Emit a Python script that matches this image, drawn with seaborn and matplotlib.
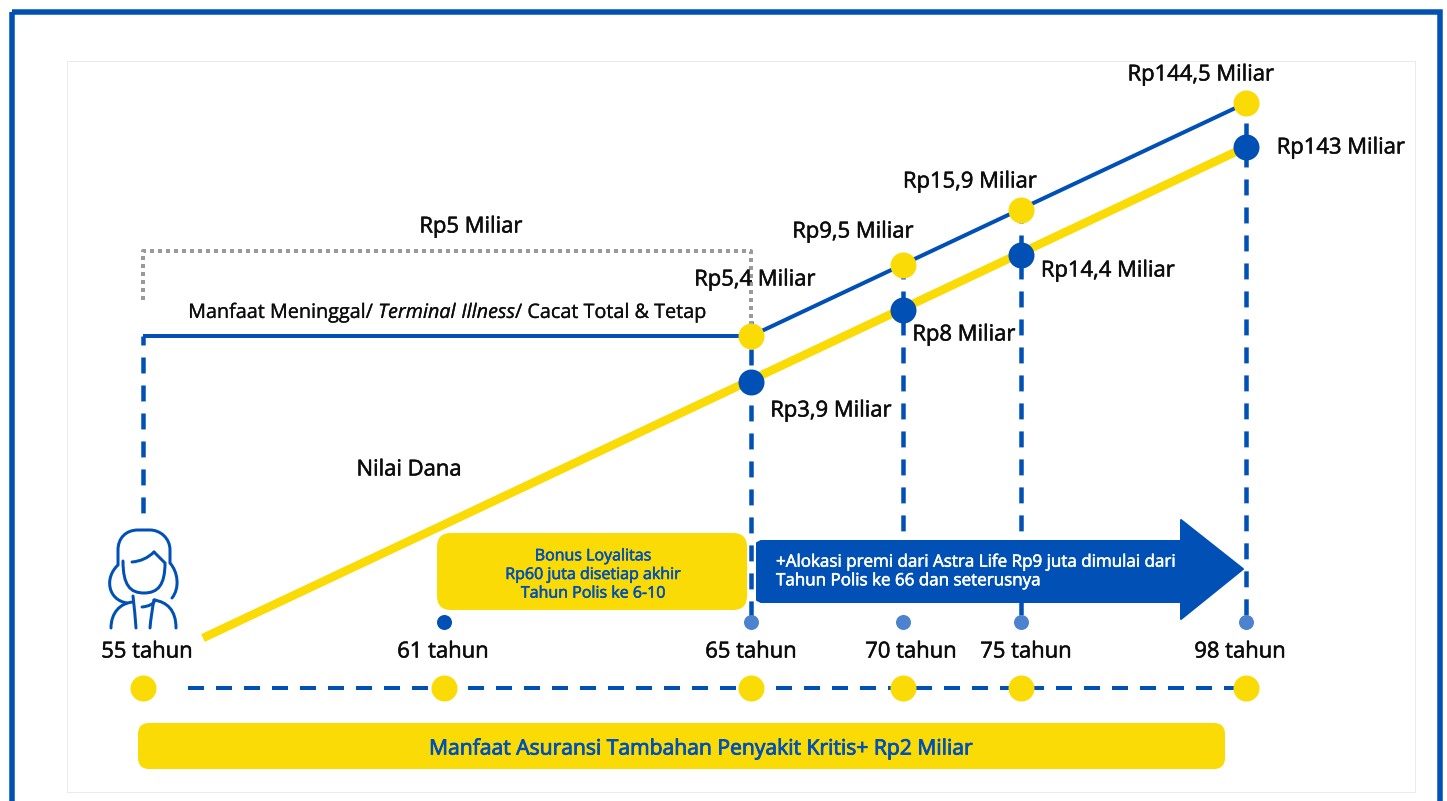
import matplotlib
matplotlib.use("Agg")
import matplotlib.pyplot as plt
import matplotlib.patheffects as pe
import seaborn as sns
import pandas as pd
from matplotlib.patches import FancyBboxPatch, Polygon, Rectangle, PathPatch
from matplotlib.path import Path

# chart values
ages = [55, 61, 65, 70, 75, 98]
age_labels = ["55 tahun", "61 tahun", "65 tahun", "70 tahun", "75 tahun", "98 tahun"]
benefit_ages = [65, 70, 75, 98]
benefit_labels = ["Rp5,4 Miliar", "Rp9,5 Miliar", "Rp15,9 Miliar", "Rp144,5 Miliar"]
fund_labels = ["Rp3,9 Miliar", "Rp8 Miliar", "Rp14,4 Miliar", "Rp143 Miliar"]

age_x = {55: 143, 61: 444, 65: 751, 70: 903, 75: 1021, 98: 1246}
benefit_y = {65: 336, 70: 265, 75: 210, 98: 103}
fund_y = {65: 382, 70: 310, 75: 255, 98: 147}
W, H = 1447, 801
px = 0.72

blue = "#0050B5"
yellow = "#FBDB05"
soft_blue = "#4D82CE"
ink = "#0D0D0D"

sns.set_theme(style="white")
plt.rcParams["font.family"] = ["Open Sans", "DejaVu Sans"]
plt.rcParams["mathtext.fontset"] = "custom"
plt.rcParams["mathtext.it"] = "Open Sans:italic"
plt.rcParams["mathtext.rm"] = "Open Sans"

fig = plt.figure(figsize=(W / 100, H / 100), dpi=100, facecolor="white")
ax = fig.add_axes([0, 0, 1, 1])
ax.set_xlim(0, W)
ax.set_ylim(H, 0)
ax.axis("off")


def line(xs, ys, color, width, z=2, dashes=None, offset=0):
    d = pd.DataFrame({"x": xs, "y": ys})
    l = sns.lineplot(data=d, x="x", y="y", ax=ax, color=color, linewidth=width * px,
                     sort=False, estimator=None, zorder=z, legend=False)
    art = l.lines[-1]
    art.set_solid_capstyle("butt")
    if dashes:
        art.set_linestyle((offset / width, dashes))
        art.set_dash_capstyle("butt")
    return art


def dots(xs, ys, color, d, z=5):
    sns.scatterplot(x=xs, y=ys, ax=ax, color=color, s=(d * px) ** 2, linewidth=0,
                    zorder=z, legend=False)


def label(x, y, s, size=22, color=ink, ha="center", stroke=0.4, spacing=1.2):
    # the reference text is a little heavier than Open Sans regular
    t = ax.text(x, y, s, ha=ha, va="center", fontsize=size * px, color=color,
                linespacing=spacing, zorder=6)
    t.set_path_effects([pe.withStroke(linewidth=stroke, foreground=color)])


# frame and inner card
ax.add_patch(Rectangle((11.5, 11.5), 1428.5, 800, fill=False, ec=blue, lw=5.5 * px, zorder=1))
ax.add_patch(Rectangle((67, 61), 1348, 731, fill=False, ec="#EAEAEA", lw=1 * px, zorder=1))

# vertical dashed drop lines, 16 px on, 12 px off
drop_dash = (3.55, 2.67)
line([143, 143], [336, 513], blue, 4.5, dashes=drop_dash, offset=7)
for age, top, bottom in zip(benefit_ages, [321, 263, 207, 95], [622, 535, 622, 622]):
    line([age_x[age], age_x[age]], [top, bottom], blue, 4.5, dashes=drop_dash)

# dotted bracket above the benefit line
line([143, 143, 751, 751], [300, 251, 251, 325], "#9A9A9A", 4, dashes=(1, 1))

# benefit and fund lines
line([143, age_x[65], age_x[98]], [336, benefit_y[65], benefit_y[98]], blue, 4, z=3)
line([203, age_x[98]], [638, fund_y[98]], yellow, 8.5, z=3)

# boxes and arrow
ax.add_patch(FancyBboxPatch((437, 533), 310, 77, boxstyle="round,pad=0,rounding_size=14",
                            fc=yellow, ec="none", zorder=4))
ax.add_patch(FancyBboxPatch((138, 723), 1087, 46, boxstyle="round,pad=0,rounding_size=11",
                            fc=yellow, ec="none", zorder=4))
ax.add_patch(Polygon([(757, 543), (761, 541), (1181, 541), (1181, 520), (1243, 569),
                      (1181, 619), (1181, 602), (761, 602), (757, 600)],
                     closed=True, fc=blue, ec=blue, lw=2 * px, joinstyle="round", zorder=4))

# markers
dots([age_x[a] for a in benefit_ages], [benefit_y[a] for a in benefit_ages], yellow, 26)
dots([age_x[a] for a in benefit_ages], [fund_y[a] for a in benefit_ages], blue, 26)
dots([age_x[61]], [622], blue, 15)
dots([age_x[a] for a in benefit_ages], [622] * 4, soft_blue, 15)

# bottom timeline
line([188, 1246], [688, 688], blue, 4, dashes=(4, 3))
dots([age_x[a] for a in ages], [688] * len(ages), yellow, 26)

# woman icon
M, C3, C4, L = Path.MOVETO, Path.CURVE3, Path.CURVE4, Path.LINETO
icon = [
    # hair
    ([(172, 598), (180, 588), (178, 572), (170, 563), (170, 550), (170, 538), (160, 530), (150, 530),
      (138, 530), (126, 530), (118, 538), (118, 550), (118, 565), (104, 578), (108, 600), (127, 603)],
     [M, C4, C4, C4, L, C4, C4, C4, L, C4, C4, C4, L, C4, C4, C4]),
    # face
    ([(123, 561), (123, 585), (130, 593), (144, 593), (158, 593), (165, 585), (165, 563), (154, 552)],
     [M, C4, C4, C4, C4, C4, C4, L]),
    # fringe
    ([(132, 562), (145, 561), (154, 552)], [M, C3, C3]),
    # shoulders and collar
    ([(111, 628), (111, 613), (120, 603), (133, 602)], [M, C4, C4, C4]),
    ([(133, 596), (135, 613), (136, 628)], [M, C3, C3]),
    ([(176, 628), (176, 610), (167, 602), (154, 600)], [M, C4, C4, C4]),
    ([(142, 607), (153, 606), (155, 600)], [M, C3, C3]),
    ([(154, 600), (151, 615), (150, 628)], [M, C3, C3]),
]
for verts, codes in icon:
    ax.add_patch(PathPatch(Path(verts, codes), fc="none", ec=blue, lw=3 * px,
                           capstyle="round", zorder=5))

# texts
for lab, x in zip(age_labels, [147, 443, 751, 911, 1026, 1240]):
    label(x, 652, lab)
for lab, x, y in zip(benefit_labels, [755, 853, 970, 1201], [280, 232, 182, 75]):
    label(x, y, lab)
for lab, x, y in zip(fund_labels, [831, 964, 1108, 1341], [411, 335, 271, 148]):
    label(x, y, lab)

label(471, 227, "Rp5 Miliar")
label(447, 313, "Manfaat Meninggal/ $\\mathit{Terminal\\ Illness}$/ Cacat Total & Tetap", size=19.8, stroke=0.2)
label(409, 470, "Nilai Dana")

label(593, 575, "Bonus Loyalitas\nRp60 juta disetiap akhir\nTahun Polis ke 6-10", size=16, color=blue, spacing=1.22)
label(776, 572, "+Alokasi premi dari Astra Life Rp9 juta dimulai dari\nTahun Polis ke 66 dan seterusnya",
      size=17, color="white", ha="left", spacing=1.22)
label(701, 749, "Manfaat Asuransi Tambahan Penyakit Kritis+ Rp2 Miliar", size=21.1, color=blue, stroke=0.6)

fig.savefig("out.png", dpi=100)
